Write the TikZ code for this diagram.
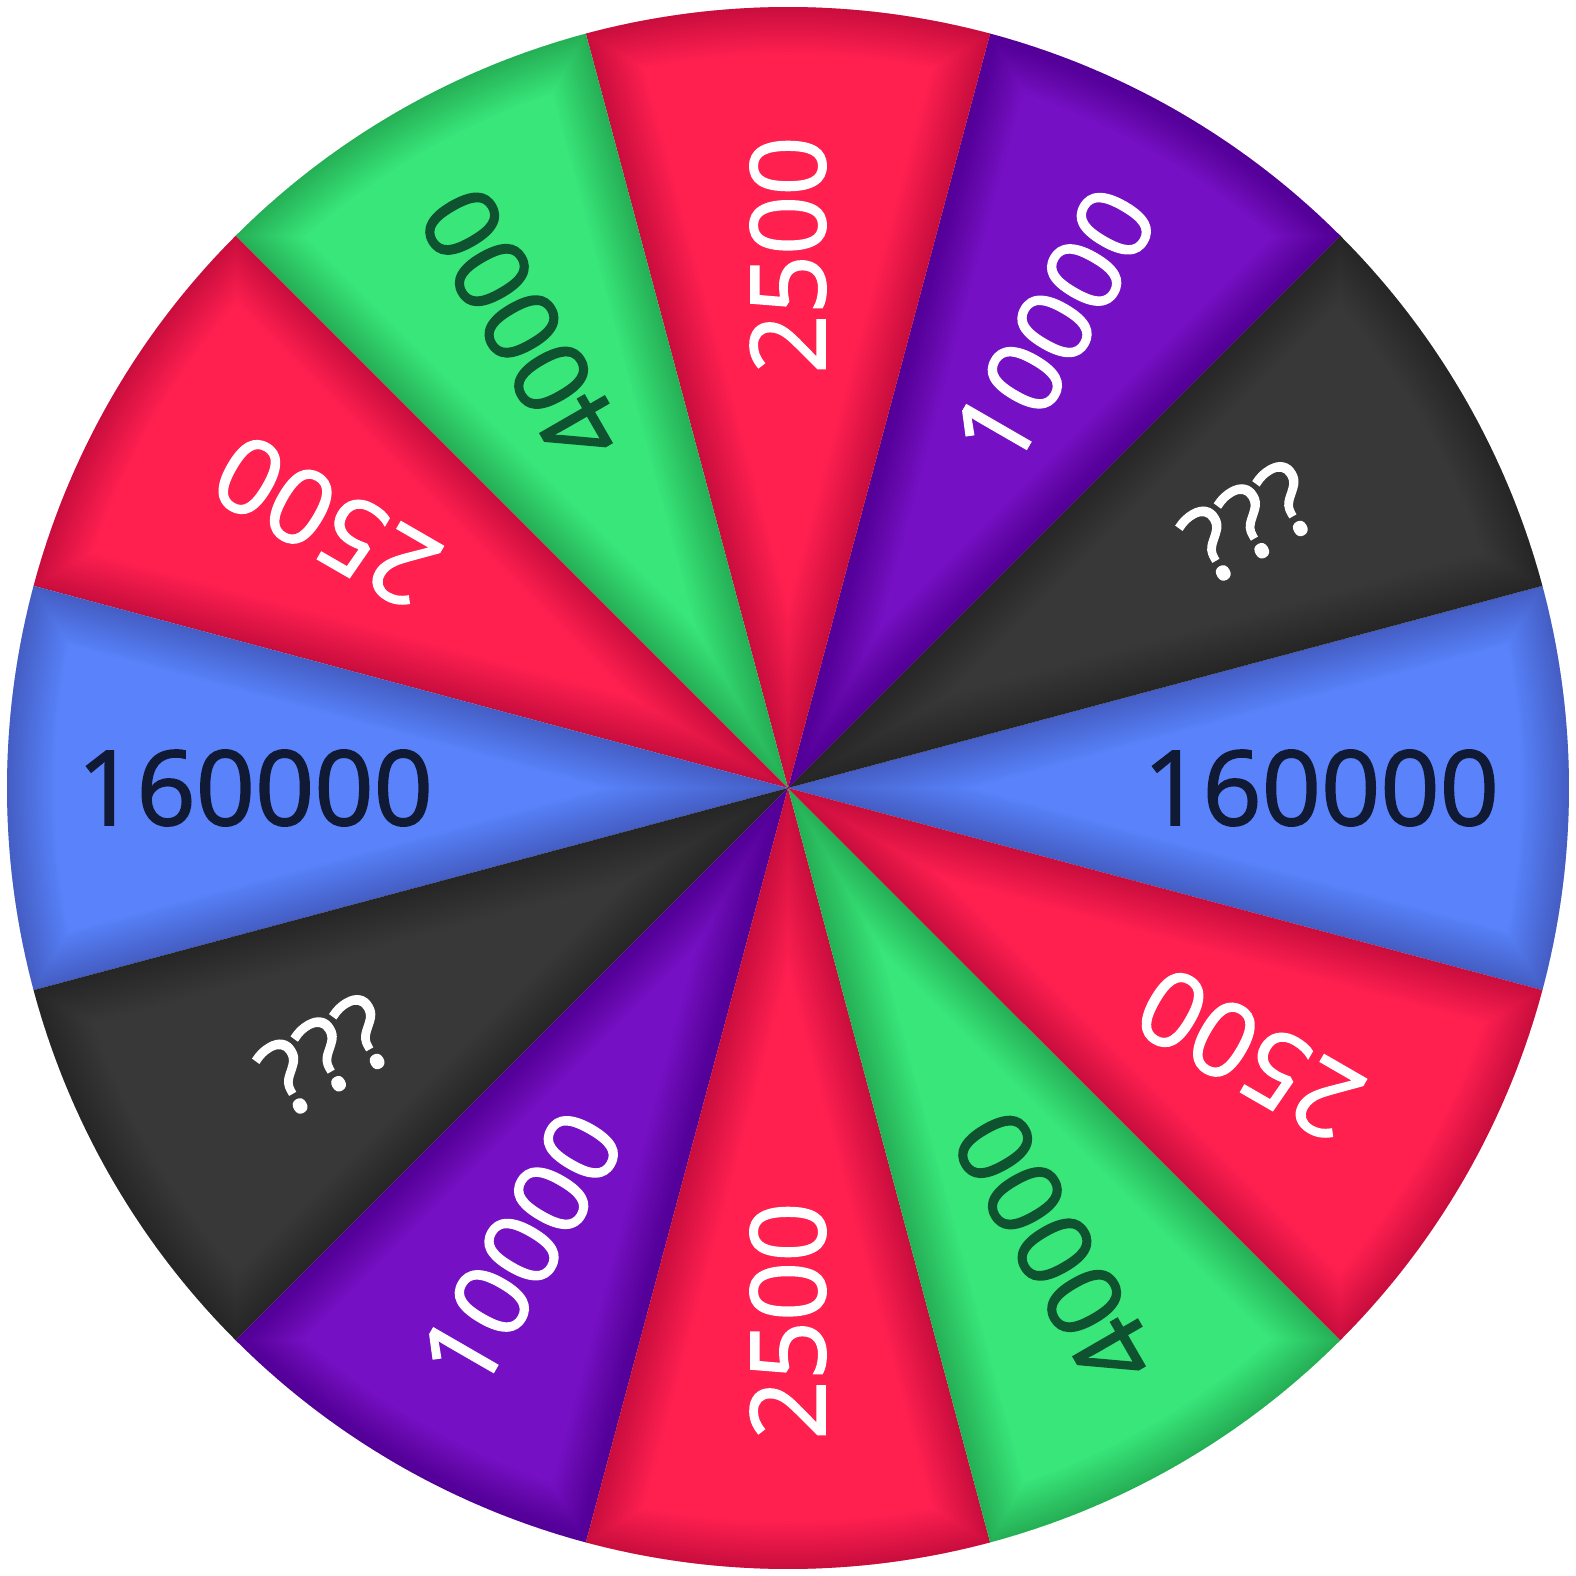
\documentclass[tikz,border=0pt]{standalone}
\usepackage{fontspec}
\setmainfont{Open Sans}[FakeBold=1.6]

% Colori della ruota
\definecolor{ruotaRosso}{HTML}{FF2050}
\definecolor{ruotaVerde}{HTML}{38E67A}
\definecolor{ruotaViola}{HTML}{7510C4}
\definecolor{ruotaGrigio}{HTML}{383838}
\definecolor{ruotaBlu}{HTML}{5A82FA}
\definecolor{testoBlu}{HTML}{111A35}
\definecolor{testoVerde}{HTML}{0F5230}

\begin{document}
\begin{tikzpicture}
    \useasboundingbox (-7.88,-7.88) rectangle (7.88,7.88);

    % Parametri
    \def\R{7.81}        % Raggio della ruota
    \def\rlab{5.33}     % Distanza delle etichette dal centro
    \def\mezzo{15}      % Meta' dell'ampiezza di uno spicchio

    % Spicchi: angolo / colore / etichetta / colore del testo
    \foreach \a/\col/\txt/\tcol [count=\i] in {
        0/ruotaBlu/160000/testoBlu,
        30/ruotaGrigio/???/white,
        60/ruotaViola/10000/white,
        90/ruotaRosso/2500/white,
        120/ruotaVerde/40000/testoVerde,
        150/ruotaRosso/2500/white,
        180/ruotaBlu/160000/testoBlu,
        210/ruotaGrigio/???/white,
        240/ruotaViola/10000/white,
        270/ruotaRosso/2500/white,
        300/ruotaVerde/40000/testoVerde,
        330/ruotaRosso/2500/white} {
        \begin{scope}
            \clip (0,0) -- (\a-\mezzo:\R) arc (\a-\mezzo:\a+\mezzo:\R) -- cycle;
            \fill[\col] (0,0) circle (\R+0.05);
            % Ombra interna lungo i bordi dello spicchio
            \foreach \w in {1.5,3,...,27}
                \draw[black, opacity=0.011, line width=\w pt]
                    (0,0) -- (\a-\mezzo:\R) arc (\a-\mezzo:\a+\mezzo:\R) -- cycle;
        \end{scope}
        % Etichetta ruotata (mai capovolta oltre 180)
        \pgfmathsetmacro\rot{mod(\a,180)}
        \node[text=\tcol, rotate=\rot, font=\fontsize{29.5}{31}\selectfont]
            (lbl\i) at (\a:\rlab) {\txt};
    }

\end{tikzpicture}
\end{document}
